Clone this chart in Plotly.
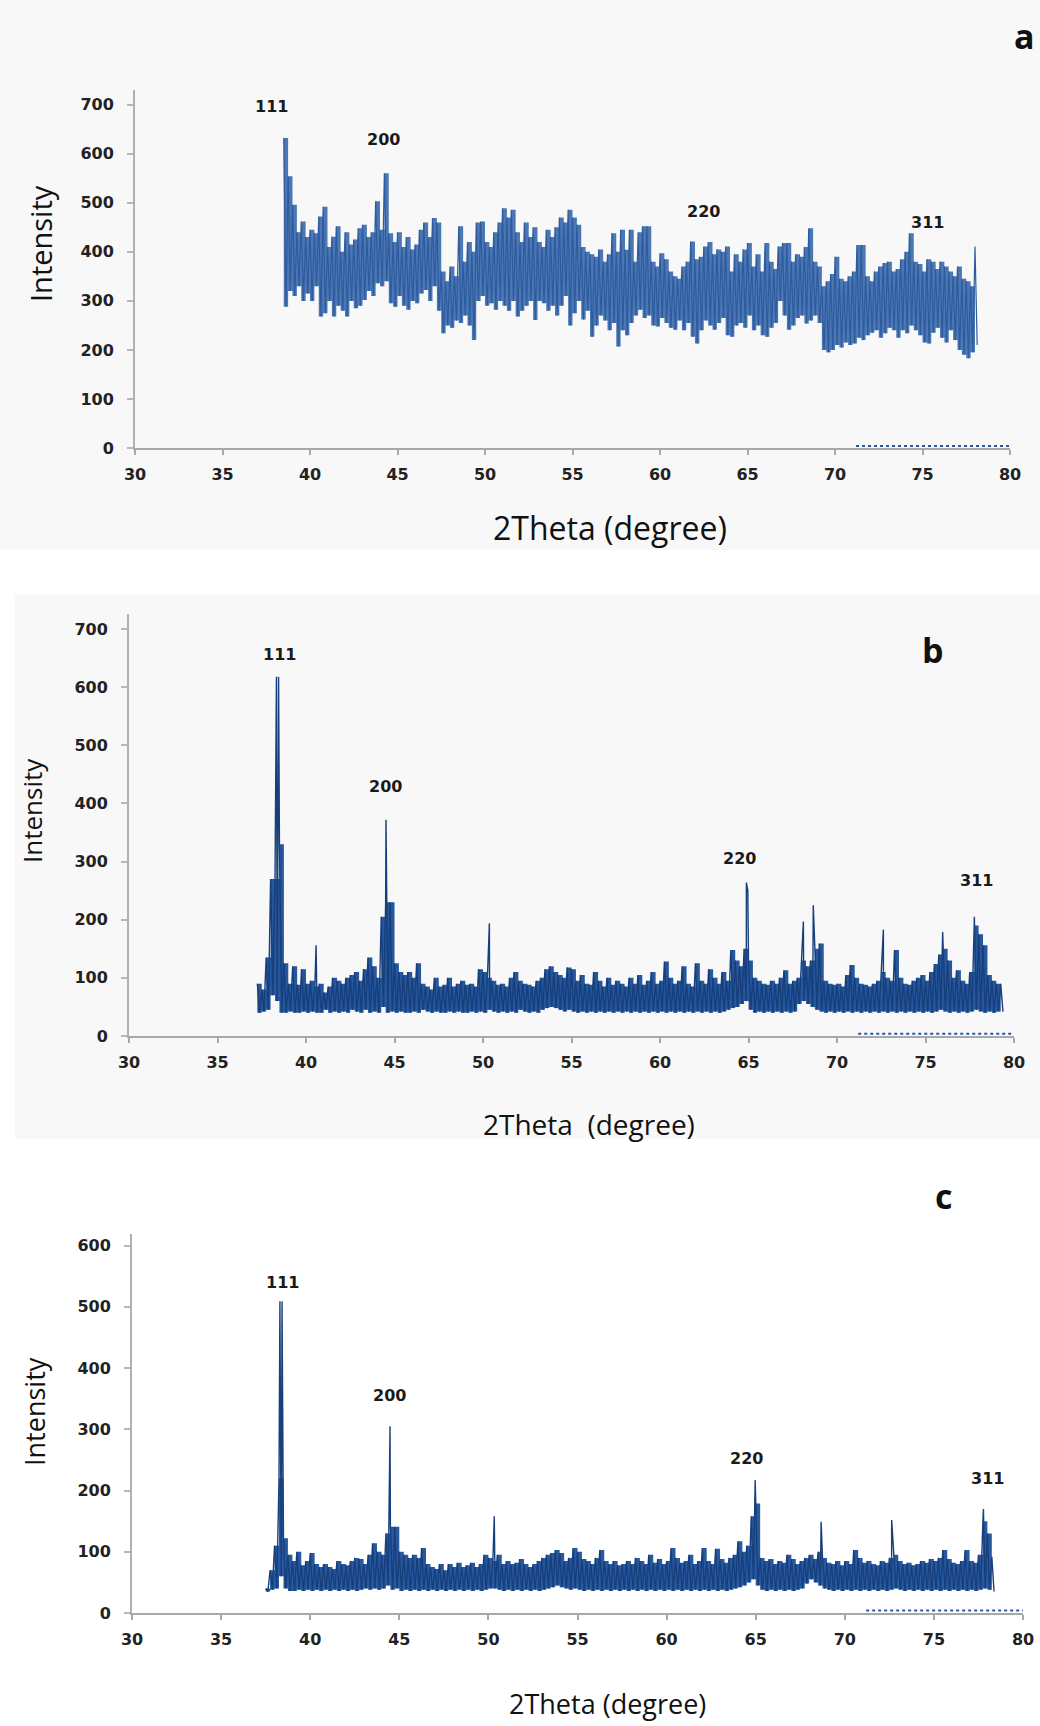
import numpy as np
import plotly.graph_objects as go

# ---------------- data ----------------
STEP = 0.25

# Panel a: noisy pattern, 38.50 .. 78.00 deg in 0.25 deg steps
a_start = 38.5
a_hi = [632, 554, 496, 440, 462, 430, 445, 438, 472, 492, 410, 431, 452, 400, 440, 415,
        425, 448, 455, 430, 440, 503, 445, 560, 438, 420, 440, 410, 430, 405, 415, 445,
        460, 430, 469, 460, 360, 340, 370, 350, 452, 380, 420, 400, 460, 462, 420, 410,
        440, 460, 489, 470, 486, 440, 420, 460, 430, 450, 420, 410, 445, 430, 450, 470,
        460, 486, 470, 455, 410, 400, 395, 390, 405, 380, 395, 438, 400, 445, 404, 445,
        380, 440, 452, 452, 380, 370, 397, 385, 360, 350, 345, 370, 380, 421, 385, 390,
        411, 420, 395, 405, 400, 411, 360, 395, 380, 405, 418, 370, 395, 360, 418, 380,
        365, 411, 418, 418, 380, 395, 390, 410, 448, 380, 370, 330, 340, 355, 390, 345,
        340, 350, 360, 414, 414, 350, 340, 360, 370, 377, 380, 360, 365, 385, 400, 438,
        380, 375, 360, 385, 380, 365, 380, 370, 360, 350, 370, 345, 340, 330, 411]
a_lo = [288, 320, 310, 330, 300, 315, 300, 330, 268, 275, 300, 268, 290, 280, 268, 300,
        285, 290, 302, 320, 310, 336, 330, 340, 295, 288, 310, 290, 282, 300, 295, 315,
        322, 300, 330, 280, 234, 250, 245, 260, 255, 270, 250, 220, 300, 310, 290, 295,
        282, 300, 290, 280, 300, 268, 280, 290, 300, 261, 300, 295, 280, 290, 270, 290,
        310, 250, 275, 300, 262, 280, 227, 250, 270, 260, 240, 255, 207, 240, 230, 255,
        270, 282, 265, 270, 250, 248, 265, 255, 245, 241, 260, 240, 255, 227, 213, 240,
        260, 250, 241, 255, 265, 230, 227, 250, 255, 245, 270, 240, 250, 230, 227, 245,
        255, 300, 270, 241, 250, 265, 270, 254, 260, 270, 255, 200, 195, 200, 210, 205,
        215, 210, 213, 225, 220, 230, 235, 240, 225, 234, 245, 240, 225, 240, 234, 250,
        240, 230, 215, 213, 235, 245, 225, 215, 240, 220, 200, 190, 183, 195, 210]

# Panel b: 37.25 .. 79.25 deg
b_start = 37.25
b_hi = [90, 80, 135, 270, 270, 330, 125, 90, 120, 88, 115, 90, 95, 85, 90, 75,
        85, 100, 95, 90, 100, 105, 110, 95, 115, 135, 120, 100, 205, 230, 230, 125,
        110, 105, 110, 100, 125, 90, 85, 80, 100, 85, 88, 100, 85, 90, 95, 88,
        90, 85, 115, 110, 100, 95, 88, 90, 85, 100, 110, 95, 90, 88, 85, 95,
        100, 115, 120, 110, 105, 100, 118, 115, 95, 105, 90, 88, 110, 95, 85, 100,
        88, 95, 90, 85, 100, 90, 105, 88, 95, 110, 90, 95, 128, 100, 90, 95,
        120, 90, 85, 125, 95, 90, 115, 100, 90, 110, 95, 148, 130, 120, 150, 130,
        100, 95, 90, 88, 95, 90, 100, 113, 90, 95, 100, 130, 120, 130, 150, 159,
        95, 90, 88, 90, 85, 105, 122, 100, 90, 88, 85, 90, 95, 110, 100, 95,
        148, 100, 90, 88, 95, 100, 105, 95, 110, 124, 140, 150, 130, 100, 113, 95,
        90, 110, 190, 175, 156, 105, 95, 90, 90]
b_lo = [40, 42, 45, 70, 60, 40, 40, 42, 40, 40, 42, 40, 42, 40, 40, 45,
        40, 42, 40, 42, 40, 45, 42, 40, 45, 40, 42, 40, 50, 40, 42, 40,
        42, 40, 40, 42, 40, 45, 42, 40, 42, 40, 40, 42, 40, 42, 40, 40,
        42, 40, 42, 40, 45, 42, 40, 42, 40, 42, 40, 45, 42, 40, 42, 40,
        45, 48, 50, 48, 45, 42, 45, 42, 40, 42, 40, 42, 40, 42, 40, 42,
        40, 42, 40, 42, 40, 42, 40, 42, 40, 42, 40, 42, 40, 42, 40, 42,
        40, 42, 40, 42, 40, 42, 40, 42, 40, 42, 45, 48, 50, 55, 60, 45,
        40, 42, 40, 42, 40, 42, 40, 42, 40, 42, 55, 60, 55, 50, 45, 42,
        40, 42, 40, 42, 40, 42, 40, 42, 40, 42, 40, 42, 40, 42, 40, 42,
        40, 42, 40, 42, 40, 42, 40, 42, 40, 42, 45, 42, 40, 42, 40, 42,
        40, 42, 45, 42, 40, 42, 40, 42, 42]
b_peak_x = [38.33, 38.45, 40.57, 44.52, 50.36, 64.88, 64.96, 68.10, 68.66, 72.62, 75.97, 77.76]
b_peak_y = [618, 618, 156, 372, 194, 264, 250, 197, 225, 183, 179, 205]

# Panel c: 37.50 .. 78.25 deg
c_start = 37.5
c_hi = [40, 70, 110, 220, 122, 95, 85, 100, 78, 85, 98, 80, 75, 80, 75, 72,
        85, 80, 78, 85, 90, 88, 80, 95, 114, 100, 95, 130, 141, 141, 100, 95,
        90, 95, 90, 106, 80, 75, 72, 80, 70, 80, 75, 82, 75, 78, 82, 75,
        80, 95, 90, 85, 95, 80, 85, 80, 82, 88, 80, 75, 80, 85, 90, 95,
        98, 103, 98, 85, 90, 106, 100, 88, 85, 80, 90, 103, 85, 80, 85, 78,
        80, 85, 80, 90, 85, 80, 95, 82, 88, 80, 85, 106, 90, 82, 85, 95,
        80, 85, 106, 85, 80, 105, 88, 82, 90, 95, 117, 100, 110, 158, 179, 90,
        85, 88, 80, 85, 82, 95, 88, 80, 85, 90, 95, 88, 100, 90, 82, 80,
        85, 78, 85, 80, 103, 90, 82, 85, 80, 78, 85, 82, 90, 95, 85, 80,
        82, 78, 80, 85, 82, 88, 85, 90, 103, 88, 82, 80, 85, 103, 85, 82,
        95, 150, 130, 92]
c_lo = [35, 38, 40, 60, 40, 36, 36, 38, 36, 38, 36, 38, 36, 38, 36, 38,
        36, 38, 36, 38, 36, 38, 40, 38, 40, 38, 40, 45, 38, 40, 36, 38,
        36, 38, 36, 38, 36, 38, 36, 38, 36, 38, 36, 38, 36, 38, 36, 38,
        36, 38, 40, 40, 38, 36, 38, 36, 38, 36, 38, 36, 38, 36, 38, 40,
        42, 45, 42, 40, 38, 40, 38, 36, 38, 36, 38, 36, 38, 36, 38, 36,
        38, 36, 38, 36, 38, 36, 38, 36, 38, 36, 38, 36, 38, 36, 38, 36,
        38, 36, 38, 36, 38, 36, 38, 36, 38, 40, 42, 45, 50, 55, 45, 38,
        36, 38, 36, 38, 36, 38, 36, 38, 40, 48, 55, 50, 45, 40, 38, 36,
        38, 36, 38, 36, 38, 36, 38, 36, 38, 36, 38, 36, 38, 40, 38, 36,
        38, 36, 38, 36, 38, 36, 38, 36, 38, 36, 38, 36, 38, 36, 38, 36,
        38, 40, 38, 35]
c_peak_x = [38.30, 38.42, 44.48, 50.33, 64.97, 68.67, 72.63, 77.78]
c_peak_y = [509, 509, 305, 158, 217, 149, 152, 170]

# faint traces lying on the x axis
tail_x = [71.2, 80.0]
tail_y = [4, 4]

# reflection labels
hkl = ["111", "200", "220", "311"]
a_lab_x = [37.8, 44.2, 62.5, 75.3]
a_lab_y = [696, 629, 482, 460]
b_lab_x = [38.5, 44.5, 64.5, 77.9]
b_lab_y = [656, 429, 306, 267]
c_lab_x = [38.45, 44.45, 64.5, 78.0]
c_lab_y = [539, 355, 252, 219]

x_ticks = [30, 35, 40, 45, 50, 55, 60, 65, 70, 75, 80]


def grid(start, n):
    return [start + i * STEP for i in range(n)]


def zigzag(start, hi, lo, px=(), py=()):
    pts = []
    for i, (h, l) in enumerate(zip(hi, lo)):
        x = start + i * STEP
        pts.append((x, h))
        pts.append((x + STEP / 2, l))
    for x, y in zip(px, py):
        pts.append((x, y))
    pts.sort(key=lambda p: p[0])
    return [p[0] for p in pts], [p[1] for p in pts]


W, H = 1040, 1726
fig = go.Figure()

panels = [
    ("x", "y", a_start, a_hi, a_lo, (), (), "#4b78b4", "#2e5b9d", 1.2),
    ("x2", "y2", b_start, b_hi, b_lo, b_peak_x, b_peak_y, "#26579d", "#163f7b", 1.4),
    ("x3", "y3", c_start, c_hi, c_lo, c_peak_x, c_peak_y, "#28599f", "#173f7c", 1.4),
]
for xa, ya, st, hi, lo, pkx, pky, fillc, linec, lw in panels:
    gx = grid(st, len(hi))
    # filled band (stepped columns) between the low and high readings
    fig.add_trace(go.Scatter(x=gx, y=lo, mode="lines", line=dict(width=0, color=fillc, shape="hv"),
                             xaxis=xa, yaxis=ya, showlegend=False, hoverinfo="skip"))
    fig.add_trace(go.Scatter(x=gx, y=hi, mode="lines", line=dict(width=0, color=fillc, shape="hv"),
                             fill="tonexty", fillcolor=fillc,
                             xaxis=xa, yaxis=ya, showlegend=False, hoverinfo="skip"))
    zx, zy = zigzag(st, hi, lo, pkx, pky)
    fig.add_trace(go.Scatter(x=zx, y=zy, mode="lines", line=dict(color=linec, width=lw),
                             xaxis=xa, yaxis=ya, showlegend=False, hoverinfo="skip"))
    fig.add_trace(go.Scatter(x=tail_x, y=tail_y, mode="lines",
                             line=dict(color="#2a57a0", width=2, dash="dot"),
                             xaxis=xa, yaxis=ya, showlegend=False, hoverinfo="skip"))

tickfont = dict(family="DejaVu Sans", size=16, color="#222222", weight="bold")


def xaxis(dom, anchor):
    return dict(domain=dom, anchor=anchor, range=[30, 80], tickvals=x_ticks,
                showgrid=False, zeroline=False, showline=True, linecolor="#a8a8a8",
                linewidth=2, ticks="outside", ticklen=5, tickwidth=1.5, tickcolor="#a8a8a8",
                tickfont=tickfont, ticklabelstandoff=6, fixedrange=True, automargin=False)


def yaxis(dom, anchor, top):
    return dict(domain=dom, anchor=anchor, range=[0, top], dtick=100, tick0=0,
                showgrid=False, zeroline=False, showline=True, linecolor="#b0b0b0",
                linewidth=2, ticks="outside", ticklen=6, tickwidth=1.5, tickcolor="#b8b8b8",
                tickfont=tickfont, ticklabelstandoff=10, fixedrange=True, automargin=False)


def px_x(p):
    return p / W


def px_y(p):
    return (H - p) / H


layout = dict(
    width=W, height=H, margin=dict(l=0, r=0, t=0, b=0, autoexpand=False),
    paper_bgcolor="white", plot_bgcolor="rgba(0,0,0,0)",
    xaxis=xaxis([px_x(135), px_x(1010)], "y"),
    yaxis=yaxis([px_y(448), px_y(90)], "x", 730),
    xaxis2=xaxis([px_x(129), px_x(1014)], "y2"),
    yaxis2=yaxis([px_y(1036), px_y(614)], "x2", 726),
    xaxis3=xaxis([px_x(132), px_x(1023)], "y3"),
    yaxis3=yaxis([px_y(1613), px_y(1234)], "x3", 619),
)
fig.update_layout(**layout)

fig.add_shape(type="rect", xref="paper", yref="paper", x0=0, x1=1, y0=px_y(550), y1=1,
              fillcolor="#f8f8f8", line_width=0, layer="below")
fig.add_shape(type="rect", xref="paper", yref="paper", x0=px_x(15), x1=1, y0=px_y(1139),
              y1=px_y(594), fillcolor="#f8f8f8", line_width=0, layer="below")

lab_font = dict(family="DejaVu Sans", size=16, color="#1a1a1a", weight="bold")
for xs, ys, xr, yr in ((a_lab_x, a_lab_y, "x", "y"), (b_lab_x, b_lab_y, "x2", "y2"),
                       (c_lab_x, c_lab_y, "x3", "y3")):
    for t, x, y in zip(hkl, xs, ys):
        fig.add_annotation(x=x, y=y, xref=xr, yref=yr, text=t, showarrow=False,
                           font=lab_font, xanchor="center", yanchor="middle")

title_font = dict(family="Open Sans", color="#111111")
texts = [
    ("Intensity", 40, 244, 29, -90),
    ("Intensity", 32, 811, 26, -90),
    ("Intensity", 34, 1412, 27, -90),
    ("2Theta (degree)", 610, 527, 32, 0),
    ("2Theta  (degree)", 589, 1124, 28, 0),
    ("2Theta (degree)", 607, 1703, 27, 0),
]
for t, x, y, s, ang in texts:
    fig.add_annotation(x=px_x(x), y=px_y(y), xref="paper", yref="paper", text=t,
                       showarrow=False, textangle=ang, xanchor="center", yanchor="middle",
                       font=dict(size=s, **title_font))

for t, x, y in (("a", 1024, 36), ("b", 933, 650), ("c", 943, 1196)):
    fig.add_annotation(x=px_x(x), y=px_y(y), xref="paper", yref="paper", text=t,
                       showarrow=False, xanchor="center", yanchor="middle",
                       font=dict(family="Open Sans", size=34, color="#111111", weight="bold"))

fig.write_html("out.html")
